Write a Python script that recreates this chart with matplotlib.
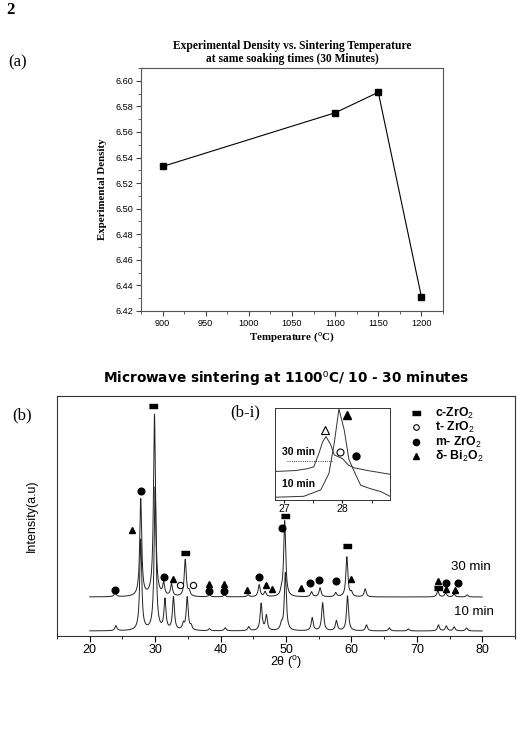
import numpy as np
import matplotlib
matplotlib.use("Agg")
import matplotlib.pyplot as plt
from matplotlib.lines import Line2D
from matplotlib.ticker import MultipleLocator

plt.rcParams["font.family"] = ["Liberation Sans", "DejaVu Sans"]
plt.rcParams["mathtext.fontset"] = "custom"
plt.rcParams["mathtext.rm"] = "Liberation Sans"
plt.rcParams["mathtext.bf"] = "Liberation Sans:bold"

# ==========================================================
# DATA (a) density vs temperature
# ==========================================================
temps = [900, 1100, 1150, 1200]
density = [6.533, 6.575, 6.591, 6.431]

# ==========================================================
# DATA (b) XRD peaks (2theta, height above baseline)
# ==========================================================
base_30 = 39
pos_30 = [23.9, 27.8, 29.9, 31.3, 32.5, 34.6, 35.2, 38.3, 40.6, 44.2, 45.9,
          46.8, 49.3, 49.8, 53.9, 55.2, 57.6, 59.3, 60.0, 62.1, 73.2, 74.4,
          75.7, 77.7]
h_30 = [4, 97, 182, 12, 12, 37, 5, 2, 2, 2, 12, 5, 4, 76, 5, 9, 4, 40, 4,
        8, 6, 4, 3, 2]

base_10 = 5
pos_10 = [24.0, 27.8, 30.0, 31.5, 32.8, 34.3, 34.9, 35.5, 38.3, 40.7, 44.3,
          46.2, 47.0, 49.3, 49.9, 54.0, 55.6, 57.7, 59.4, 62.3, 65.8, 68.7,
          73.3, 74.5, 75.7, 77.6]
h_10 = [5, 91, 143, 30, 33, 6, 33, 4, 2, 3, 4, 27, 15, 6, 58, 13, 28, 10, 35,
        6, 3, 2, 6, 5, 4, 3]

# phase markers (2theta, y)
c_zro2 = [(29.7, 230), (34.6, 83), (49.9, 120), (59.3, 90), (73.2, 48)]
t_zro2 = [(33.8, 51), (35.8, 51)]
m_zro2 = [(23.9, 46), (27.9, 145), (31.4, 59), (38.2, 45), (40.5, 45),
          (45.9, 59), (49.4, 108), (53.6, 53), (55.0, 56), (57.6, 55),
          (74.5, 53), (76.3, 53)]
d_bi2o3 = [(26.5, 106), (32.8, 57), (38.3, 52), (40.6, 52), (44.1, 46),
           (47.0, 51), (47.9, 47), (52.3, 48), (60.0, 57), (73.2, 55),
           (74.5, 47), (75.9, 46)]

# inset (b-i) curves
ins_x_30 = [26.85, 27.2, 27.4, 27.51, 27.6, 27.66, 27.72, 27.8, 27.86, 28.0,
            28.1, 28.2, 28.43, 28.81]
ins_y_30 = [31, 32, 34, 36, 51, 63, 69, 60, 49, 45, 38, 35, 32, 28]
ins_x_10 = [26.85, 27.34, 27.63, 27.77, 27.86, 27.94, 28.03, 28.11, 28.2,
            28.31, 28.49, 28.66, 28.81]
ins_y_10 = [3, 4, 11, 29, 62, 99, 76, 44, 31, 16, 12, 9, 4]
ins_marks = {"t_open": (27.71, 76), "d_fill": (28.07, 92),
             "c_open": (27.95, 52), "m_fill": (28.23, 48)}

rect = [(-1, -0.5), (1, -0.5), (1, 0.5), (-1, 0.5)]

fig = plt.figure(figsize=(5.17, 7.49), dpi=100)
W, H = 517.0, 749.0


def frac(x0, y0, x1, y1):
    return [x0 / W, 1 - y1 / H, (x1 - x0) / W, (y1 - y0) / H]


fig.text(6 / W, 1 - 10 / H, "2", family="Liberation Serif", weight="bold",
         fontsize=12, va="center")
fig.text(8 / W, 1 - 62 / H, "(a)", family="Liberation Serif", fontsize=12,
         va="center")

# ==========================================================
# (a)
# ==========================================================
ax = fig.add_axes(frac(141, 68, 443, 311))
ax.plot(temps, density, color="black", lw=0.8, marker="s", ms=3.8)
ax.set_xlim(875, 1225)
ax.set_ylim(6.42, 6.61)
ax.xaxis.set_major_locator(MultipleLocator(50))
ax.xaxis.set_minor_locator(MultipleLocator(25))
ax.yaxis.set_major_locator(MultipleLocator(0.02))
ax.yaxis.set_minor_locator(MultipleLocator(0.01))
ax.yaxis.set_major_formatter(lambda v, p: f"{v:.2f}")
ax.tick_params(which="both", direction="out", labelsize=6.6, color="#444",
               pad=2)
ax.tick_params(which="major", length=3.5)
ax.tick_params(which="minor", length=2)
for s in ax.spines.values():
    s.set_color("#555")
ax.set_title("Experimental Density vs. Sintering Temperature\n"
             "at same soaking times (30 Minutes)",
             family="Liberation Serif", weight="bold", fontsize=8.3,
             linespacing=1.15, pad=4)
ax.set_ylabel("Experimental Density", family="Liberation Serif",
              weight="bold", fontsize=7.8, labelpad=6)
ax.set_xlabel("Temperature ($^{\\mathrm{o}}$C)", family="Liberation Serif",
              weight="bold", fontsize=7.8, labelpad=2)

# ==========================================================
# (b)
# ==========================================================
tt = np.linspace(20, 80, 3000)


def pattern(pos, hts, base, w=0.18):
    y = np.full_like(tt, base, dtype=float)
    for p, h in zip(pos, hts):
        y += h / (1 + ((tt - p) / w) ** 2)
    return y


bx = fig.add_axes(frac(57, 396, 515, 636))
bx.plot(tt, pattern(pos_30, h_30, base_30), color="#222", lw=0.7)
bx.plot(tt, pattern(pos_10, h_10, base_10), color="#222", lw=0.7)

mk = dict(color="black", ls="none")
bx.plot(*zip(*c_zro2), marker=rect, ms=6.2, **mk)
bx.plot(*zip(*t_zro2), marker="o", ms=4.5, mfc="white", mec="black",
        mew=0.8, ls="none")
bx.plot(*zip(*m_zro2), marker="o", ms=4.8, **mk)
bx.plot(*zip(*d_bi2o3), marker="^", ms=4.3, **mk)

bx.text(78.3, 69, "30 min", fontsize=9.5, ha="center", va="center")
bx.text(78.8, 24, "10 min", fontsize=9.5, ha="center", va="center")

bx.set_xlim(15, 85)
bx.set_ylim(0, 240)
bx.xaxis.set_major_locator(MultipleLocator(10))
bx.xaxis.set_minor_locator(MultipleLocator(5))
bx.set_yticks([])
bx.tick_params(axis="x", which="both", direction="out", labelsize=9,
               pad=1.5)
bx.tick_params(axis="x", which="major", length=4)
bx.tick_params(axis="x", which="minor", length=2.5)
for s in bx.spines.values():
    s.set_color("#333")
bx.set_xlabel("2θ ($^{\\mathrm{o}}$)", fontsize=9, labelpad=-1)
bx.set_ylabel("Intensity(a.u)", fontsize=9, labelpad=14)
bx.set_title("Microwave sintering at 1100$^{\\mathrm{o}}$C/ 10 - 30 minutes",
             fontsize=9.8, weight="bold", family="DejaVu Sans", pad=9)

handles = [
    Line2D([], [], marker=rect, ms=6, **mk),
    Line2D([], [], marker="o", ms=4, mfc="white", mec="black", mew=0.8,
           ls="none"),
    Line2D([], [], marker="o", ms=4.5, **mk),
    Line2D([], [], marker="^", ms=4.5, **mk),
]
labels = ["c-ZrO$_2$", "t- ZrO$_2$", "m- ZrO$_2$", "δ- Bi$_2$O$_2$"]
leg = bx.legend(handles, labels, loc="upper left",
                bbox_to_anchor=(347 / 458, 1 - 5 / 240),
                frameon=False, fontsize=8.8, handlelength=1.2,
                handletextpad=0.9, labelspacing=-0.05, borderaxespad=0)
for t in leg.get_texts():
    t.set_fontweight("bold")

fig.text(12 / W, 1 - 415 / H, "(b)", family="Liberation Serif", fontsize=12,
         va="center")
fig.text(230 / W, 1 - 412 / H, "(b-i)", family="Liberation Serif",
         fontsize=12, va="center")

# ==========================================================
# inset (b-i)
# ==========================================================
ix = fig.add_axes(frac(275, 408, 390, 500))
ix.plot(ins_x_30, ins_y_30, color="#333", lw=0.7)
ix.plot(ins_x_10, ins_y_10, color="#333", lw=0.7)
ix.plot(*ins_marks["t_open"], marker="^", ms=5.5, mfc="white", mec="black",
        mew=0.8)
ix.plot(*ins_marks["d_fill"], marker="^", ms=6, color="black")
ix.plot(*ins_marks["c_open"], marker="o", ms=5, mfc="white", mec="black",
        mew=0.8)
ix.plot(*ins_marks["m_fill"], marker="o", ms=5, color="black")
ix.text(26.97, 52, "30 min", fontsize=7.5, weight="bold", va="center")
ix.axhline(42, xmin=0.1, xmax=0.5, color="black", lw=0.6, ls=":")
ix.text(26.97, 17, "10 min", fontsize=7.5, weight="bold", va="center")
ix.set_xlim(26.85, 28.81)
ix.set_ylim(0, 100)
ix.set_xticks([27, 28])
ix.xaxis.set_minor_locator(MultipleLocator(0.5))
ix.set_yticks([])
ix.tick_params(axis="x", which="both", direction="out", labelsize=7.5,
               pad=1, length=2)
for s in ix.spines.values():
    s.set_color("#333")
    s.set_linewidth(0.7)

fig.savefig("out.png", dpi=100)
